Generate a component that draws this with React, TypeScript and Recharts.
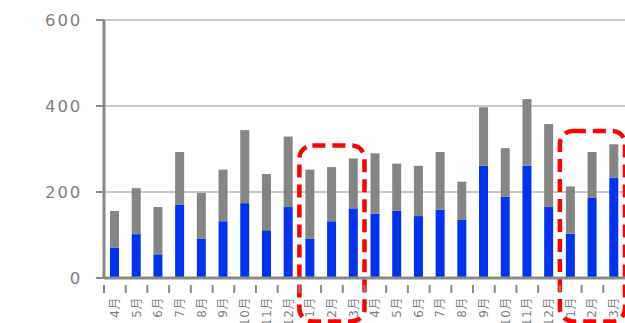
import { BarChart, Bar, XAxis, YAxis, CartesianGrid, ReferenceArea } from 'recharts'

// 2 fiscal years, April to March
const monthLabels = [
  '4月', '5月', '6月', '7月', '8月', '9月', '10月', '11月', '12月', '1月', '2月', '3月',
  '4月', '5月', '6月', '7月', '8月', '9月', '10月', '11月', '12月', '1月', '2月', '3月',
]
const blueValues = [70, 102, 55, 171, 91, 132, 174, 111, 165, 91, 132, 162, 150, 156, 144, 159, 135, 261, 189, 261, 165, 103, 186, 234]
const totalValues = [156, 209, 165, 293, 198, 252, 344, 242, 329, 252, 258, 278, 290, 266, 261, 293, 224, 397, 302, 416, 358, 213, 293, 311]
const yTicks = [0, 200, 400, 600]

const data = monthLabels.map((label, i) => ({
  key: String(i),
  label,
  blue: blueValues[i],
  gray: totalValues[i] - blueValues[i],
}))

const WIDTH = 625
const HEIGHT = 323
const Y_AXIS_WIDTH = 104
const AXIS_COLOR = '#8a8a8a'
const TEXT_COLOR = '#7f7f7f'
const FONT = '"DejaVu Sans", "Noto Sans CJK JP", sans-serif'
const HALF_BAND = (WIDTH - Y_AXIS_WIDTH) / monthLabels.length / 2

// eslint-disable-next-line @typescript-eslint/no-explicit-any
function MonthTick({ x, y, payload }: any) {
  const label = monthLabels[payload.index] ?? ''
  const ty = y + 11
  return (
    <g>
      <line x1={x - HALF_BAND} x2={x - HALF_BAND} y1={y - 1} y2={y + 7} stroke={AXIS_COLOR} strokeWidth={2} />
      <text
        x={x}
        y={ty}
        transform={`rotate(-90, ${x}, ${ty})`}
        textAnchor="end"
        dominantBaseline="central"
        fill={TEXT_COLOR}
        fontSize={12}
        letterSpacing={0.6}
        fontFamily={FONT}
      >
        {label}
      </text>
    </g>
  )
}

// eslint-disable-next-line @typescript-eslint/no-explicit-any
function DashedBox({ x, y, width, height }: any) {
  return (
    <rect
      x={x}
      y={y}
      width={width}
      height={height}
      rx={13}
      ry={13}
      fill="none"
      stroke="#ff0000"
      strokeWidth={4.5}
      strokeDasharray="13 7"
    />
  )
}

export default function App() {
  return (
    <div style={{ position: 'absolute', left: 0, top: 0, width: WIDTH, height: HEIGHT, overflow: 'hidden', background: '#fff' }}>
      <BarChart
        width={WIDTH}
        height={HEIGHT}
        data={data}
        margin={{ top: 20, right: 0, left: 0, bottom: 0 }}
        barSize={9}
      >
        <CartesianGrid vertical={false} stroke="#c8c8c8" strokeWidth={2} />
        <XAxis
          dataKey="key"
          interval={0}
          height={45}
          tick={<MonthTick />}
          tickLine={false}
          axisLine={{ stroke: AXIS_COLOR, strokeWidth: 3 }}
        />
        <YAxis
          width={Y_AXIS_WIDTH}
          domain={[0, 600]}
          ticks={yTicks}
          interval={0}
          tickSize={8}
          tickMargin={14}
          tickLine={{ stroke: AXIS_COLOR, strokeWidth: 2 }}
          axisLine={{ stroke: AXIS_COLOR, strokeWidth: 3 }}
          tick={{ fill: TEXT_COLOR, fontSize: 16.5, fontFamily: FONT, letterSpacing: 1.8 }}
        />
        <Bar dataKey="blue" stackId="a" fill="#0033ee" isAnimationActive={false} />
        <Bar dataKey="gray" stackId="a" fill="#858585" isAnimationActive={false} />
        <ReferenceArea x1="9" x2="11" y1={-101} y2={308} ifOverflow="visible" shape={<DashedBox />} />
        <ReferenceArea x1="21" x2="23" y1={-101} y2={342} ifOverflow="visible" shape={<DashedBox />} />
      </BarChart>
    </div>
  )
}
